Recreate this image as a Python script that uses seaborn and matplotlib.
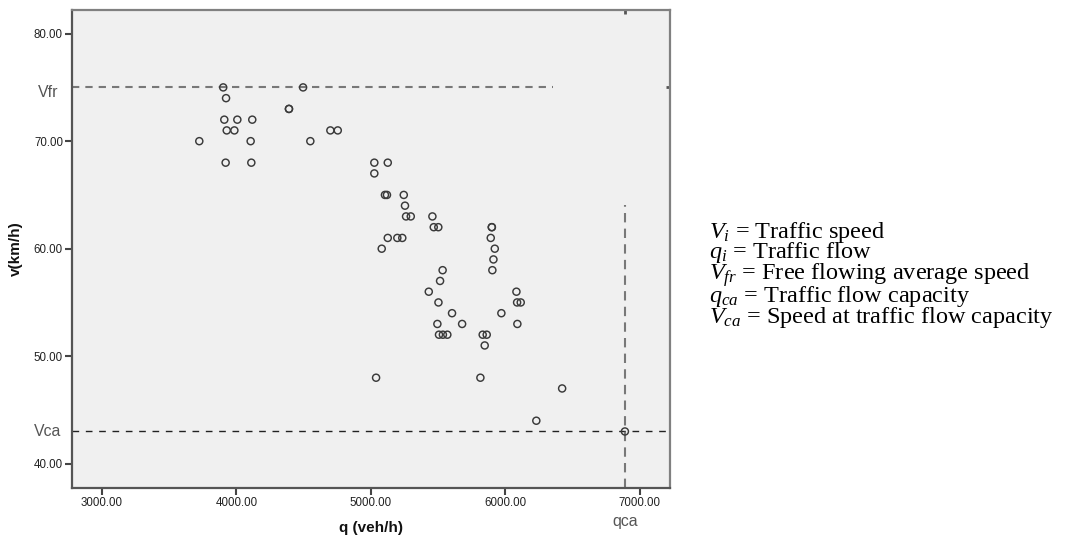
import matplotlib
matplotlib.use('Agg')
import matplotlib.pyplot as plt
import matplotlib.transforms as mtransforms
import seaborn as sns
import pandas as pd

# ------------------------------------------
# data
# ------------------------------------------
flow = [3902, 3923, 3910, 4007, 4118, 3928, 3985, 3724, 4106, 3920, 4111,
        4391, 4391, 4496, 4550, 4699, 4754,
        5026, 5126, 5026, 5105, 5120, 5245, 5254, 5262, 5297, 5458, 5468,
        5502, 5900, 5900, 5126, 5197, 5234, 5081, 5892, 5922, 5912, 5904,
        5534, 5515, 5431, 5503, 5604, 5495, 5679, 5507, 5536, 5569, 5832,
        5862, 5847, 5971, 6083, 6088, 6115, 6090, 5039, 5815, 6423, 6231,
        6890]
speed = [75, 74, 72, 72, 72, 71, 71, 70, 70, 68, 68,
         73, 73, 75, 70, 71, 71,
         68, 68, 67, 65, 65, 65, 64, 63, 63, 63, 62,
         62, 62, 62, 61, 61, 61, 60, 61, 60, 59, 58,
         58, 57, 56, 55, 54, 53, 53, 52, 52, 52, 52,
         52, 51, 54, 56, 55, 55, 53, 48, 48, 47, 44,
         43]

v_fr = 75.0        # free flow speed
v_fr_end = 6358    # where the Vfr reference line stops
v_ca = 43.0        # speed at capacity
q_ca = 6890        # capacity flow
q_ca_top = 64.1    # where the qca reference line stops

x_ticks = [3000, 4000, 5000, 6000, 7000]
y_ticks = [40, 50, 60, 70, 80]
x_lim = (2777, 7225)
y_lim = (37.74, 82.2)

notes = [r'$V_i$ = Traffic speed',
         r'$q_i$ = Traffic flow',
         r'$V_{fr}$ = Free flowing average speed',
         r'$q_{ca}$ = Traffic flow capacity',
         r'$V_{ca}$ = Speed at traffic flow capacity']

df = pd.DataFrame({'q': flow, 'v': speed})

# ------------------------------------------
# style
# ------------------------------------------
sns.set_style('ticks', {'axes.facecolor': '#f0f0f0'})
plt.rcParams['font.family'] = ['Liberation Sans', 'DejaVu Sans']
plt.rcParams['mathtext.fontset'] = 'custom'
plt.rcParams['mathtext.rm'] = 'Liberation Serif'
plt.rcParams['mathtext.it'] = 'Liberation Serif:italic'

fig = plt.figure(figsize=(10.89, 5.37), dpi=100)
ax = fig.add_axes([0.0661, 0.0912, 0.5491, 0.8902])

sns.scatterplot(data=df, x='q', y='v', ax=ax, marker='o', s=26,
                facecolor='none', edgecolor='#3a3a3a', linewidth=1.05,
                zorder=3)

# reference lines
ax.hlines(v_fr, x_lim[0], v_fr_end, colors='#787878', linewidth=1.5,
          linestyles=(0, (3.5, 2.9)), zorder=2)
ax.axhline(v_ca, color='#222222', linewidth=1.0,
           linestyle=(0, (4.8, 4.8)), zorder=2)
ax.vlines(q_ca, y_lim[0], q_ca_top, colors='#787878', linewidth=1.5,
          linestyles=(0, (4.5, 3.0)), zorder=2)

ax.set_xlim(*x_lim)
ax.set_ylim(*y_lim)
ax.set_xticks(x_ticks)
ax.set_yticks(y_ticks)
ax.set_xticklabels([f'{t:.2f}' for t in x_ticks])
ax.set_yticklabels([f'{t:.2f}' for t in y_ticks])
ax.tick_params(axis='both', direction='out', length=5, width=1.5,
               color='#444444', labelsize=8.3, labelcolor='#222222', pad=1.5)

for side in ['top', 'right']:
    ax.spines[side].set_color('#808080')
    ax.spines[side].set_linewidth(1.6)
for side in ['left', 'bottom']:
    ax.spines[side].set_color('#555555')
    ax.spines[side].set_linewidth(1.6)

# tiny marks where the reference lines meet the far axes
sec_y = ax.secondary_yaxis('right')
sec_y.set_yticks([v_fr])
sec_y.set_yticklabels([])
sec_y.tick_params(direction='in', length=3, width=2, color='#555555')
sec_y.spines['right'].set_visible(False)
sec_x = ax.secondary_xaxis('top')
sec_x.set_xticks([q_ca])
sec_x.set_xticklabels([])
sec_x.tick_params(direction='in', length=3, width=2, color='#555555')
sec_x.spines['top'].set_visible(False)

ax.set_xlabel('q (veh/h)', fontsize=11, fontweight='bold', color='#111111')
ax.set_ylabel('v(km/h)', fontsize=11, fontweight='bold', color='#111111')
ax.xaxis.set_label_coords(0.5, -0.084)
ax.xaxis.label.set_va('center')
ax.yaxis.set_label_coords(-0.094, 0.5)
ax.yaxis.label.set_va('center')

# reference line labels
ty = mtransforms.blended_transform_factory(ax.transAxes, ax.transData)
tx = mtransforms.blended_transform_factory(ax.transData, ax.transAxes)
ax.annotate('Vfr', xy=(0, v_fr), xycoords=ty, xytext=(-10, -4),
            textcoords='offset points', ha='right', va='center',
            fontsize=11.4, color='#555555', annotation_clip=False)
ax.annotate('Vca', xy=(0, v_ca), xycoords=ty, xytext=(-7.5, 0),
            textcoords='offset points', ha='right', va='center',
            fontsize=11.4, color='#555555', annotation_clip=False)
ax.annotate('qca', xy=(q_ca, 0), xycoords=tx, xytext=(0, -24),
            textcoords='offset points', ha='center', va='center',
            fontsize=11.4, color='#555555', annotation_clip=False)

# variable notes on the right, one text block (baseline = last line)
fig.text(709 / 1089, 1 - 323 / 537, '\n'.join(notes), fontsize=17.5,
         family='Liberation Serif', color='black', va='baseline',
         ha='left', linespacing=0.76)

fig.savefig('out.png', dpi=100)
